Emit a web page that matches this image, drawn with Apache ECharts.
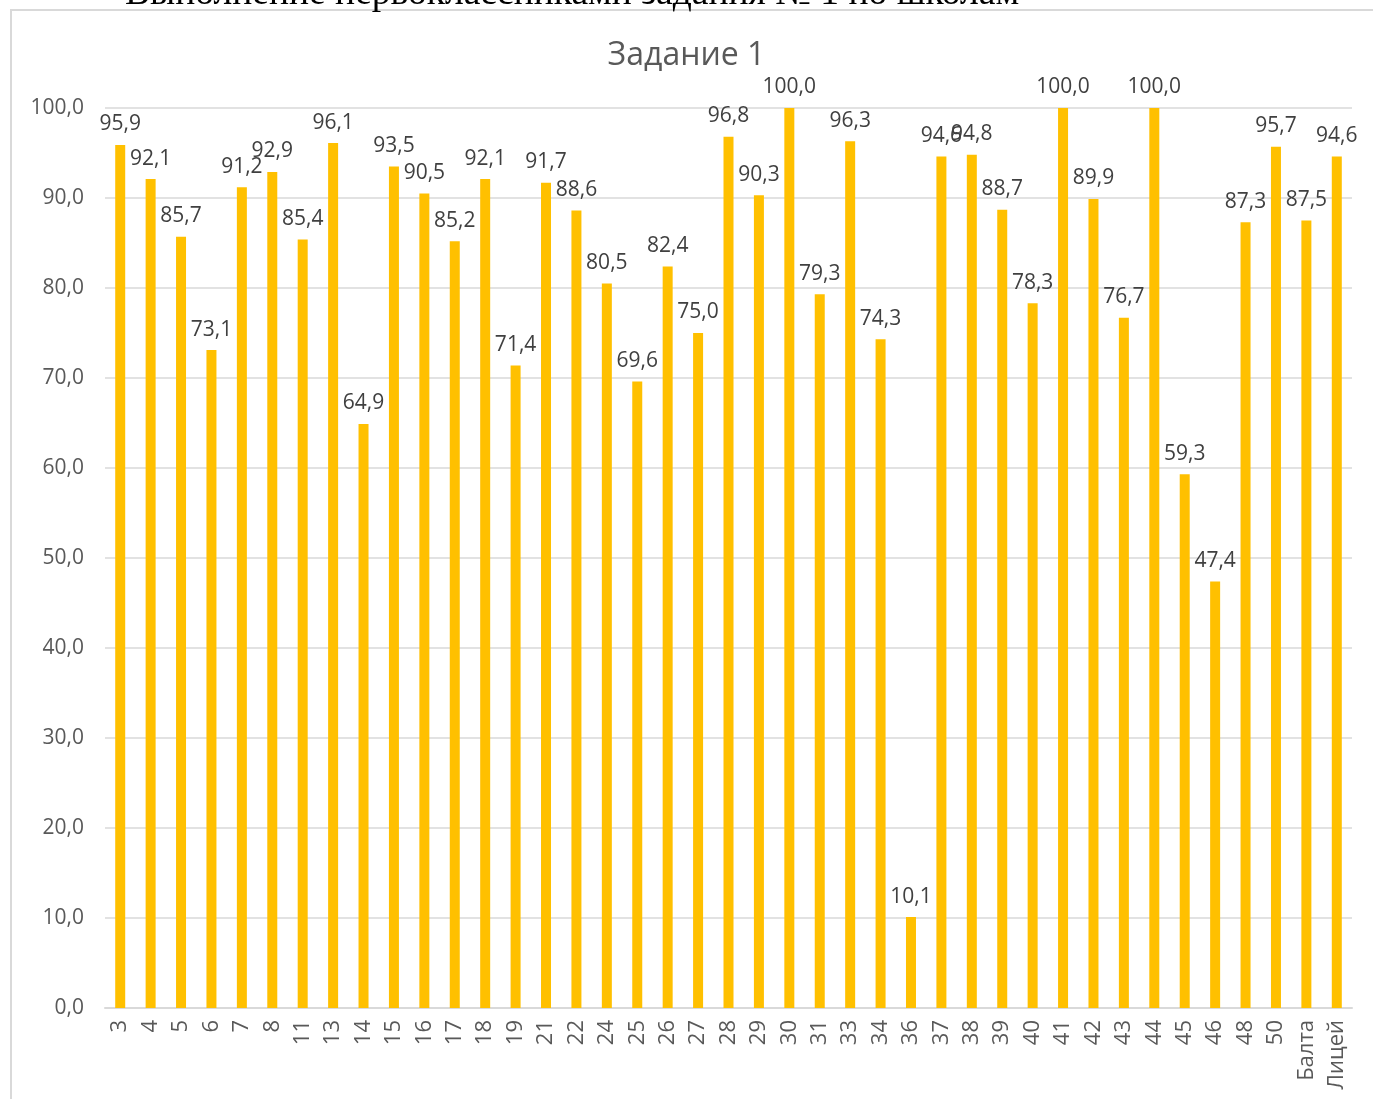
<!DOCTYPE html>
<html>
<head>
<meta charset="utf-8">
<script src="https://cdn.jsdelivr.net/npm/echarts@6/dist/echarts.min.js"></script>
<style>
html,body{margin:0;padding:0;background:#fff;}
#chart{width:1373px;height:1099px;}
</style>
</head>
<body>
<div id="chart"></div>
<script>
const pageHeading = 'Выполнение первоклассниками задания № 1 по школам';
const chartTitle = 'Задание 1';
const categories = ['3','4','5','6','7','8','11','13','14','15','16','17','18','19','21','22','24','25','26','27','28','29','30','31','33','34','36','37','38','39','40','41','42','43','44','45','46','48','50','Балта','Лицей'];
const values = [95.9,92.1,85.7,73.1,91.2,92.9,85.4,96.1,64.9,93.5,90.5,85.2,92.1,71.4,91.7,88.6,80.5,69.6,82.4,75.0,96.8,90.3,100.0,79.3,96.3,74.3,10.1,94.6,94.8,88.7,78.3,100.0,89.9,76.7,100.0,59.3,47.4,87.3,95.7,87.5,94.6];
const yMin = 0, yMax = 100, yStep = 10;

const fmt = v => Number(v).toFixed(1).replace('.', ',');
const FONT = '"Open Sans", "Noto Sans", sans-serif';

const chart = echarts.init(document.getElementById('chart'), null, {renderer: 'canvas'});
chart.setOption({
  animation: false,
  backgroundColor: '#ffffff',
  title: {
    text: chartTitle,
    left: 'center',
    top: 35,
    textStyle: {fontFamily: FONT, fontSize: 32, fontWeight: 'normal', color: '#595959'}
  },
  graphic: [
    {
      type: 'rect', silent: true, z: -1,
      shape: {x: 11, y: 10, width: 1400, height: 1120},
      style: {fill: 'none', stroke: '#d9d9d9', lineWidth: 2}
    },
    {
      type: 'text', silent: true,
      left: 125, top: -25,
      style: {text: pageHeading, fontFamily: '"Liberation Serif", "DejaVu Serif", serif', fontSize: 37.5, fill: '#000000'}
    }
  ],
  grid: {left: 105, right: 21, top: 108, bottom: 91, containLabel: false},
  xAxis: {
    type: 'category',
    data: categories,
    axisLine: {show: true, lineStyle: {color: '#d9d9d9', width: 2}},
    axisTick: {show: false},
    axisLabel: {
      interval: 0, rotate: 90, margin: 12,
      fontFamily: FONT, fontSize: 22, color: '#595959'
    }
  },
  yAxis: {
    type: 'value',
    min: yMin, max: yMax, interval: yStep,
    axisLine: {show: false},
    axisTick: {show: false},
    splitLine: {lineStyle: {color: '#d9d9d9', width: 1.5}},
    axisLabel: {
      margin: 21, formatter: fmt,
      fontFamily: FONT, fontSize: 21, color: '#595959'
    }
  },
  series: [{
    type: 'bar',
    data: values,
    barWidth: 10,
    itemStyle: {color: '#FFC000'},
    label: {
      show: true, position: 'top', distance: 10,
      formatter: p => fmt(p.value),
      fontFamily: FONT, fontSize: 21, color: '#404040'
    }
  }]
});
</script>
</body>
</html>
